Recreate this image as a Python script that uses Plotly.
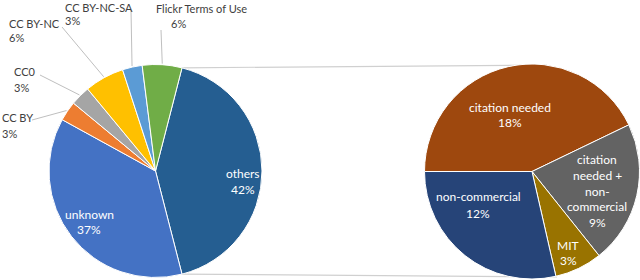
import math
import plotly.graph_objects as go

# ---------------- data ----------------
main_labels = ["others", "unknown", "CC BY", "CC0", "CC BY-NC", "CC BY-NC-SA", "Flickr Terms of Use"]
main_values = [42, 37, 3, 3, 6, 3, 6]
main_colors = ["#255E91", "#4472C4", "#ED7D31", "#A5A5A5", "#FFC000", "#5B9BD5", "#70AD47"]

sub_labels = ["citation needed", "citation needed + non-commercial", "MIT", "non-commercial"]
sub_values = [18, 9, 3, 12]
sub_colors = ["#9E480E", "#636363", "#997300", "#264478"]

W, H = 640, 280
FONT = "Lato"
FS_IN = 12
FS_OUT = 11
OUT_COLOR = "#404040"

# geometry (pixels)
L_CX, L_CY, L_R = 155.5, 171, 106.5
R_CX, R_CY, R_R = 532, 171.5, 107.5


def domain(cx, cy, r):
    return dict(x=[(cx - r) / W, (cx + r) / W],
                y=[(H - cy - r) / H, (H - cy + r) / H])


def px(x, y):
    return x / W, 1 - y / H


total = sum(main_values)
others_deg = main_values[0] / total * 360
rotation = 90 - others_deg / 2

fig = go.Figure()
fig.add_trace(go.Pie(
    labels=main_labels, values=main_values, sort=False, direction="clockwise",
    rotation=rotation, marker=dict(colors=main_colors, line=dict(color="white", width=1)),
    textinfo="none", hoverinfo="label+percent", domain=domain(L_CX, L_CY, L_R),
    showlegend=False,
))
fig.add_trace(go.Pie(
    labels=sub_labels, values=sub_values, sort=False, direction="clockwise",
    rotation=-90, marker=dict(colors=sub_colors, line=dict(color="white", width=1)),
    textinfo="none", hoverinfo="label+percent", domain=domain(R_CX, R_CY, R_R),
    showlegend=False,
))

shapes = []
# connector lines between pies
a0 = math.radians(rotation)
a1 = math.radians(rotation + others_deg)
p_top = (L_CX + L_R * math.sin(a0), L_CY - L_R * math.cos(a0))
p_bot = (L_CX + L_R * math.sin(a1), L_CY - L_R * math.cos(a1))
for (x0, y0), (x1, y1) in [(p_top, (R_CX + 15, R_CY - R_R + 1)), (p_bot, (R_CX + 25, R_CY + R_R - 2))]:
    X0, Y0 = px(x0, y0)
    X1, Y1 = px(x1, y1)
    shapes.append(dict(type="line", xref="paper", yref="paper", x0=X0, y0=Y0, x1=X1, y1=Y1,
                       line=dict(color="#D0D0D0", width=1.2), layer="below"))

# leader lines for small slices: (label index, label-side pixel point)
leader_starts = {2: (32, 120), 3: (40, 75), 4: (62, 27), 5: (131, 10), 6: (161, 30)}
cum = rotation
mids = []
for v in main_values:
    d = v / total * 360
    mids.append(cum + d / 2)
    cum += d
for i, (sx, sy) in leader_starts.items():
    a = math.radians(mids[i])
    ex, ey = L_CX + L_R * 1.01 * math.sin(a), L_CY - L_R * 1.01 * math.cos(a)
    X0, Y0 = px(sx, sy)
    X1, Y1 = px(ex, ey)
    shapes.append(dict(type="line", xref="paper", yref="paper", x0=X0, y0=Y0, x1=X1, y1=Y1,
                       line=dict(color="#BFBFBF", width=1)))

annotations = []


def txt(s, x, y, color, size, xanchor="center"):
    X, Y = px(x, y)
    annotations.append(dict(text=s, x=X, y=Y, xref="paper", yref="paper", showarrow=False,
                            xanchor=xanchor, yanchor="middle",
                            font=dict(family=FONT, size=size, color=color)))


def pct(v, t):
    return f"{round(v / t * 100)}%"


# inside labels, main pie
txt(main_labels[0], 243, 173, "white", FS_IN)
txt(pct(main_values[0], total), 243, 189, "white", FS_IN)
txt(main_labels[1], 89, 214, "white", FS_IN)
txt(pct(main_values[1], total), 89, 229, "white", FS_IN)
# outside labels, main pie
txt(main_labels[2], 0, 117, OUT_COLOR, FS_OUT, "left")
txt(pct(main_values[2], total), 0, 133, OUT_COLOR, FS_OUT, "left")
txt(main_labels[3], 12, 71, OUT_COLOR, FS_OUT, "left")
txt(pct(main_values[3], total), 12, 87, OUT_COLOR, FS_OUT, "left")
txt(main_labels[4], 7, 23, OUT_COLOR, FS_OUT, "left")
txt(pct(main_values[4], total), 7, 38, OUT_COLOR, FS_OUT, "left")
txt(main_labels[5], 63, 7, OUT_COLOR, FS_OUT, "left")
txt(pct(main_values[5], total), 63, 21, OUT_COLOR, FS_OUT, "left")
txt(main_labels[6], 201, 8, OUT_COLOR, FS_OUT)
txt(pct(main_values[6], total), 178, 23, OUT_COLOR, FS_OUT)

# sub pie labels (percent of all)
txt(sub_labels[0], 510, 107, "white", FS_IN)
txt(pct(sub_values[0], total), 510, 122, "white", FS_IN)
for s, y in zip(["citation", "needed +", "non-", "commercial"], [159, 175, 191, 206]):
    txt(s, 597, y, "white", FS_IN)
txt(pct(sub_values[1], total), 597, 222, "white", FS_IN)
txt(sub_labels[2], 568, 245, "white", FS_IN)
txt(pct(sub_values[2], total), 568, 260, "white", FS_IN)
txt(sub_labels[3], 478, 196, "white", FS_IN)
txt(pct(sub_values[3], total), 478, 213, "white", FS_IN)

fig.update_layout(
    width=W, height=H, margin=dict(l=0, r=0, t=0, b=0),
    paper_bgcolor="white", plot_bgcolor="white",
    shapes=shapes, annotations=annotations,
    font=dict(family=FONT, size=FS_OUT, color=OUT_COLOR),
)
fig.write_html("out.html", config={"displayModeBar": False},
               post_script="document.body.style.margin='0';")
